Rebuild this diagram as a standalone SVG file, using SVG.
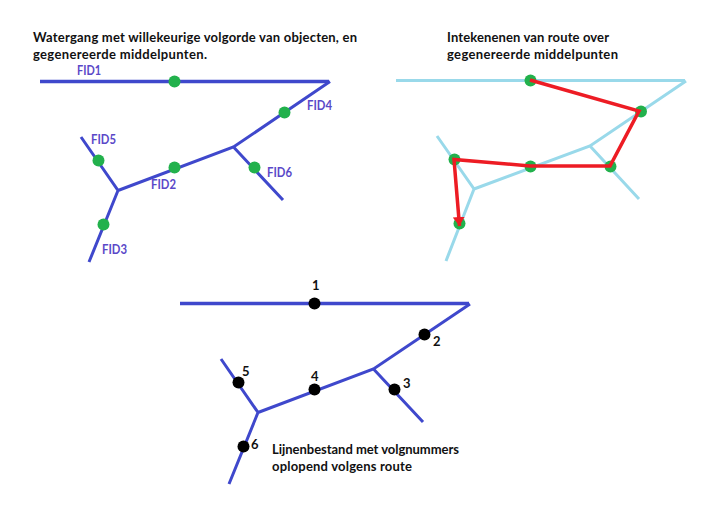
<svg xmlns="http://www.w3.org/2000/svg" width="722" height="516" viewBox="0 0 722 516">
<style>
text{font-family:"Lato","Open Sans","Liberation Sans",sans-serif;font-size:13px;font-weight:700;fill:#111}
.fid{fill:#5a48c8;font-size:13px}
.net{fill:none;stroke:#3f48cc;stroke-linejoin:miter}
.pale{fill:none;stroke:#99d9ea}
.g{fill:#22b14c}
.k{fill:#000}
</style>
<defs>
<marker id="arrow" markerUnits="userSpaceOnUse" markerWidth="11" markerHeight="13" refX="9" refY="6.500" orient="auto"><path d="M0 0.500L9 6.500L0 12.500Z" fill="#ed1c24"/></marker>
</defs>
<rect width="722" height="516" fill="#fff"/>
<g id="connectors">
<g id="network-a" class="net">
<path stroke-width="3.5" d="M40 81.500H329"/><path stroke-width="3" d="M330 81.500L233.500 147L118 190.500M81 137L118 190.500L89 262M233.500 147L283 200"/>
</g>
<g id="network-b" class="pale">
<path stroke-width="3" d="M396 80.500H685"/><path stroke-width="3" d="M686 81L590 146L474 189M437 136L474 189L446 261M590 146L639 199"/>
</g>
<g id="network-c" class="net">
<path stroke-width="3.5" d="M180 303.500H469"/><path stroke-width="3" d="M470 304L373.500 369L258 412.500M221 359L258 412.500L229 484M373.500 369L423 422"/>
</g>
</g>
<g id="middelpunten-a" class="g">
<circle cx="174.500" cy="81.500" r="6"/><circle cx="284.500" cy="112.500" r="6"/><circle cx="98.500" cy="160.500" r="6"/><circle cx="174.500" cy="167.500" r="6"/><circle cx="254.500" cy="167.500" r="6"/><circle cx="103.500" cy="224.500" r="6"/>
</g>
<g id="middelpunten-b" class="g">
<circle cx="530.500" cy="80.500" r="6"/><circle cx="641" cy="111.500" r="6"/><circle cx="454.500" cy="159.500" r="6"/><circle cx="530.500" cy="166.500" r="6"/><circle cx="610.500" cy="166.500" r="6"/><circle cx="459.500" cy="223.500" r="6"/>
</g>
<g id="route" fill="none" stroke="#ed1c24" stroke-width="3.5">
<path d="M530 80L639 111L610 166H530L454 159.500L459.500 226" marker-end="url(#arrow)"/>
</g>
<g id="nummers" class="k">
<circle cx="314.500" cy="303.500" r="6"/><circle cx="424.500" cy="334.500" r="6"/><circle cx="238.500" cy="382.500" r="6"/><circle cx="314.500" cy="389.500" r="6"/><circle cx="394.500" cy="389.500" r="6"/><circle cx="243.500" cy="446.500" r="6"/>
</g>
<g id="title-a">
<text x="33" y="42" textLength="324">Watergang met willekeurige volgorde van objecten, en</text>
<text x="33" y="59" textLength="174">gegenereerde middelpunten.</text>
</g>
<g id="title-b">
<text x="447" y="42" textLength="162">Intekenenen van route over</text>
<text x="447" y="59" textLength="171">gegenereerde middelpunten</text>
</g>
<g id="title-c">
<text x="272" y="454" textLength="187">Lijnenbestand met volgnummers</text>
<text x="272" y="471" textLength="140">oplopend volgens route</text>
</g>
<g id="labels-fid">
<text class="fid" x="77" y="75" textLength="24" lengthAdjust="spacingAndGlyphs">FID1</text>
<text class="fid" x="307" y="110" textLength="25" lengthAdjust="spacingAndGlyphs">FID4</text>
<text class="fid" x="91" y="144" textLength="25" lengthAdjust="spacingAndGlyphs">FID5</text>
<text class="fid" x="151" y="189" textLength="25" lengthAdjust="spacingAndGlyphs">FID2</text>
<text class="fid" x="267" y="177" textLength="25" lengthAdjust="spacingAndGlyphs">FID6</text>
<text class="fid" x="102" y="254" textLength="25" lengthAdjust="spacingAndGlyphs">FID3</text>
</g>
<g id="labels-nummer">
<text x="312" y="290">1</text>
<text x="433" y="346">2</text>
<text x="403" y="388">3</text>
<text x="311" y="381">4</text>
<text x="242" y="376">5</text>
<text x="251" y="449">6</text>
</g>
</svg>
